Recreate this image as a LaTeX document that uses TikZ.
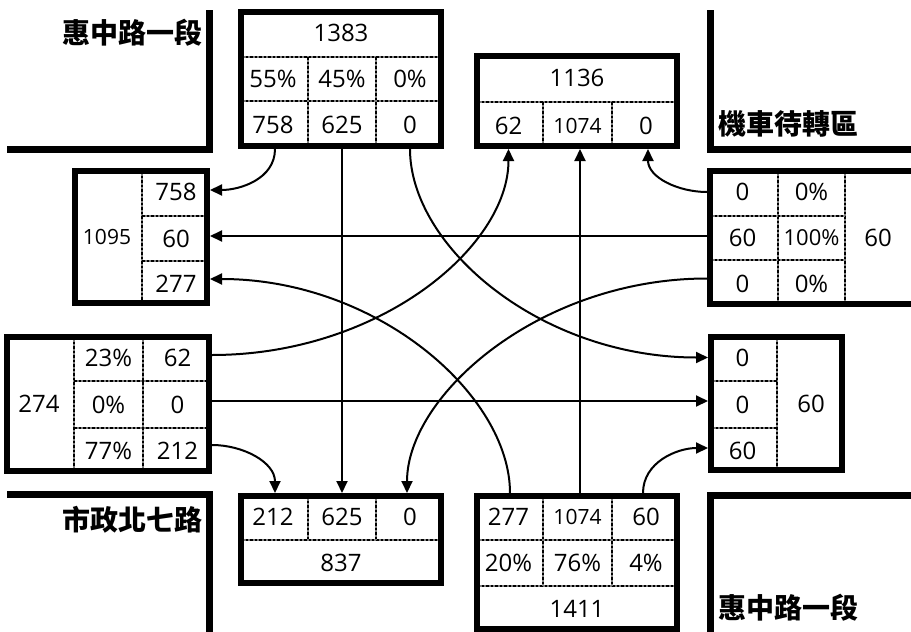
\documentclass[tikz,border=0pt]{standalone}
\usepackage{fontspec}
\setmainfont{Open Sans}
\newfontfamily\cjk{Noto Sans CJK TC}
\usetikzlibrary{arrows.meta}
\newcommand\cel[6]{%
  \node[cellst, minimum width={(#4)-(#2)}, minimum height={(#5)-(#3)}]
    (#1) at ({((#2)+(#4))/2},{((#3)+(#5))/2}) {#6};}
\newcommand\sm[1]{{\fontsize{21}{23}\selectfont #1}}
\newcommand\md[1]{{\fontsize{22}{24}\selectfont #1}}
\begin{document}
\begin{tikzpicture}[x=1pt,y=-1pt,
  cellst/.style={inner sep=0pt, outer sep=0pt, font=\fontsize{24}{26}\selectfont},
  frame/.style={draw=black, line width=6pt},
  road/.style={draw=black, line width=7pt, line join=miter, line cap=butt},
  sep/.style={draw=gray, line width=1.3pt, postaction={draw=black, line width=1.3pt, dash pattern=on 2.5pt off 2pt}},
  arr/.style={draw=black, line width=2pt, -{Triangle[length=12pt,width=11pt]}},
  lbl/.style={font=\cjk\bfseries\fontsize{28}{30}\selectfont, inner sep=0pt}]
\useasboundingbox (0,0) rectangle (911,632);
\fill[white] (0,0) rectangle (911,632);

% roads
\draw[road] (209.5,10) -- (209.5,149) -- (7,149);
\draw[road] (710,10) -- (710,149) -- (915,149);
\draw[road] (7,494.5) -- (209.5,494.5) -- (209.5,640);
\draw[road] (915,495) -- (710.5,495) -- (710.5,640);

% labels
\node[lbl, anchor=east] (lblNW) at (203,33) {惠中路一段};
\node[lbl, anchor=west] (lblNE) at (718,124) {機車待轉區};
\node[lbl, anchor=east] (lblSW) at (203,520) {市政北七路};
\node[lbl, anchor=west] (lblSE) at (718,608) {惠中路一段};

% ---- top box
\cel{tTot}{238}{9}{444}{57}{1383}
\cel{tp1}{238}{57}{308}{101}{55\%}
\cel{tp2}{308}{57}{376}{101}{45\%}
\cel{tp3}{376}{57}{444}{101}{0\%}
\cel{tL}{238}{101}{308}{149}{758}
\cel{tS}{308}{101}{376}{149}{625}
\cel{tR}{376}{101}{444}{149}{0}
\path[sep] (241,57) -- (441,57);
\path[sep] (241,101) -- (441,101);
\path[sep] (308,57) -- (308,146);
\path[sep] (376,57) -- (376,146);
\draw[frame] (241,12) rectangle (441,146);

% ---- NE box
\cel{nTot}{474}{53}{680}{102}{1136}
\cel{nL}{474}{102}{543}{149}{62}
\cel{nS}{543}{102}{612}{149}{\sm{1074}}
\cel{nR}{612}{102}{680}{149}{0}
\path[sep] (477,102) -- (677,102);
\path[sep] (543,102) -- (543,146);
\path[sep] (612,102) -- (612,146);
\draw[frame] (477,56) rectangle (677,146);

% ---- West box
\cel{wTot}{72}{168}{142}{306}{\sm{1095}}
\cel{wA}{142}{168}{210}{216}{758}
\cel{wB}{142}{216}{210}{261}{60}
\cel{wC}{142}{261}{210}{306}{277}
\path[sep] (142,171) -- (142,303);
\path[sep] (142,216) -- (207,216);
\path[sep] (142,261) -- (207,261);
\draw[frame] (75,171) rectangle (207,303);

% ---- East box
\cel{eA1}{707}{168}{778}{216}{0}
\cel{eA2}{778}{168}{845}{216}{0\%}
\cel{eB1}{707}{216}{778}{260}{60}
\cel{eB2}{778}{216}{845}{260}{\md{100\%}}
\cel{eC1}{707}{260}{778}{307}{0}
\cel{eC2}{778}{260}{845}{307}{0\%}
\cel{eTot}{845}{168}{911}{307}{60}
\path[sep] (778,171) -- (778,304);
\path[sep] (845,171) -- (845,304);
\path[sep] (710,216) -- (845,216);
\path[sep] (710,260) -- (845,260);
\draw[frame] (710,171) rectangle (916,304);

% ---- Left-bottom box
\cel{lTot}{4}{334}{74}{474}{274}
\cel{lp1}{74}{334}{143}{381}{23\%}
\cel{lA}{143}{334}{212}{381}{62}
\cel{lp2}{74}{381}{143}{428}{0\%}
\cel{lB}{143}{381}{212}{428}{0}
\cel{lp3}{74}{428}{143}{474}{77\%}
\cel{lC}{143}{428}{212}{474}{212}
\path[sep] (74,337) -- (74,471);
\path[sep] (143,337) -- (143,471);
\path[sep] (74,381) -- (209,381);
\path[sep] (74,428) -- (209,428);
\draw[frame] (7,337) rectangle (209,471);

% ---- East-bottom box
\cel{rA}{708}{334}{777}{381}{0}
\cel{rB}{708}{381}{777}{428}{0}
\cel{rC}{708}{428}{777}{473}{60}
\cel{rTot}{777}{334}{845}{473}{60}
\path[sep] (777,337) -- (777,470);
\path[sep] (711,381) -- (777,381);
\path[sep] (711,428) -- (777,428);
\draw[frame] (711,337) rectangle (842,470);

% ---- Bottom box
\cel{bL}{238}{493}{308}{540}{212}
\cel{bS}{308}{493}{376}{540}{625}
\cel{bR}{376}{493}{444}{540}{0}
\cel{bTot}{238}{540}{444}{586}{837}
\path[sep] (241,540) -- (441,540);
\path[sep] (308,496) -- (308,540);
\path[sep] (376,496) -- (376,540);
\draw[frame] (241,496) rectangle (441,583);

% ---- Bottom-right box
\cel{sL}{474}{493}{543}{540}{277}
\cel{sS}{543}{493}{612}{540}{\sm{1074}}
\cel{sR}{612}{493}{680}{540}{60}
\cel{sp1}{474}{540}{543}{586}{20\%}
\cel{sp2}{543}{540}{612}{586}{76\%}
\cel{sp3}{612}{540}{680}{586}{4\%}
\cel{sTot}{474}{586}{680}{632}{1411}
\path[sep] (477,540) -- (677,540);
\path[sep] (477,586) -- (677,586);
\path[sep] (543,496) -- (543,586);
\path[sep] (612,496) -- (612,586);
\draw[frame] (477,496) rectangle (677,629);

% ---- connectors
\draw[arr] ([xshift=2pt]tL.south) to[out=-90,in=0] ([yshift=2pt]wA.east);
\draw[arr] (tS.south) -- (bS.north);
\draw[arr] (tR.south) .. controls +(0,98) and +(-167,0) .. (rA.west);

\draw[arr] ([yshift=2.5pt]lA.east) .. controls +(167,0) and +(0,98) .. (nL.south);
\draw[arr] ([yshift=3.5pt]lB.east) -- ([yshift=3.5pt]lB.east -| rB.west);
\draw[arr] ([yshift=6pt]lC.east) to[out=0,in=90] ([xshift=2pt]bL.north);

\draw[arr] ([yshift=5pt]eC1.west) .. controls +(-167,0) and +(0,-98) .. ([xshift=-3pt]bR.north);
\draw[arr] ([yshift=2pt]eB1.west) -- ([yshift=2pt]eB1.west -| wB.east);
\draw[arr] (eA1.west) to[out=180,in=-90] ([xshift=2pt]nR.south);

\draw[arr] ([xshift=1.5pt]sL.north) .. controls +(0,-98) and +(167,0) .. ([yshift=4.5pt]wC.east);
\draw[arr] ([xshift=2.5pt]sS.north) -- ([xshift=2.5pt]nS.south);
\draw[arr] ([xshift=-3pt]sR.north) to[out=90,in=180] ([yshift=2.5pt]rC.west);
\end{tikzpicture}
\end{document}
